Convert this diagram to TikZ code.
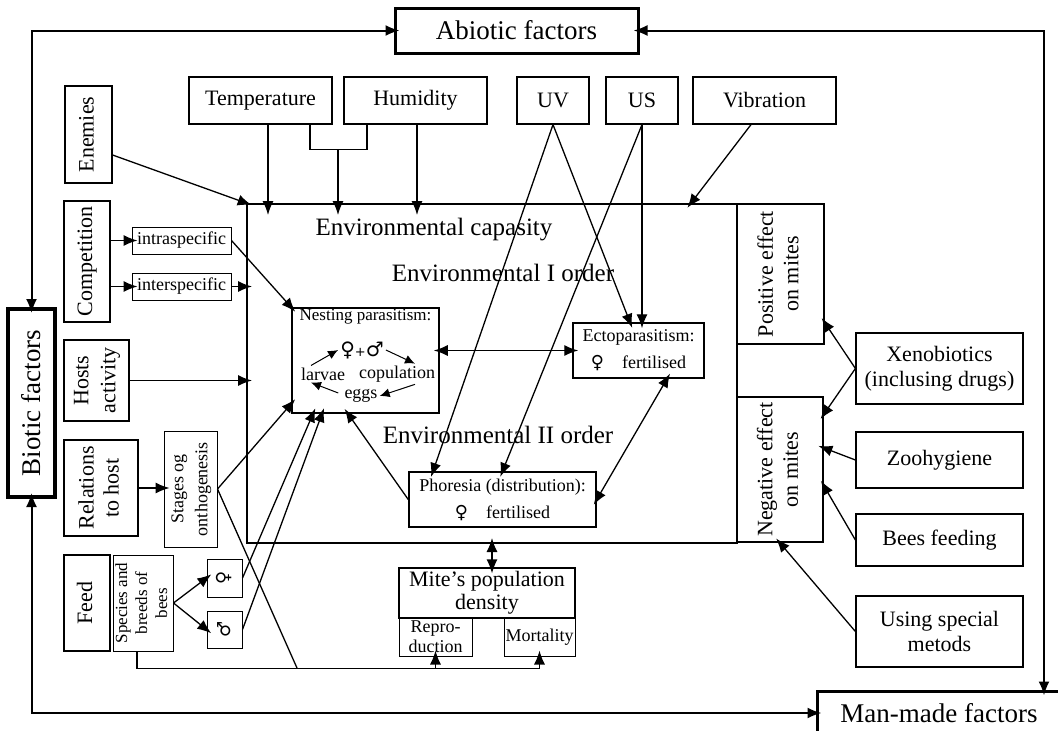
\documentclass[tikz,border=0pt]{standalone}
\usepackage{fontspec}
\setmainfont{Liberation Serif}
\newfontfamily\symfont{DejaVu Sans}
\usepackage{graphicx}
\usetikzlibrary{arrows.meta}

\newcommand{\vlabel}[1]{\rotatebox{90}{\begin{tabular}{@{}c@{}}#1\end{tabular}}}
\newcommand{\fbig}{\fontsize{27}{30}\selectfont}
\newcommand{\fenv}{\fontsize{25}{28}\selectfont}
\newcommand{\fmid}{\fontsize{22}{25.5}\selectfont}
\newcommand{\fsml}{\fontsize{18}{20}\selectfont}

\begin{document}
\begin{tikzpicture}[x=1pt,y=-1pt,
    box/.style={draw,line width=1.2pt,inner sep=0pt,font=\fmid},
    sbox/.style={draw,line width=1pt,inner sep=0pt,font=\fsml},
    fbox/.style={draw,line width=3pt,inner sep=0pt,font=\fbig},
    ebox/.style={draw,line width=2pt,inner sep=0pt,font=\fmid},
    ln/.style={line width=1.3pt},
    arr/.style={ln,-{Latex[length=14pt,width=11pt]},shorten >=-6pt},
    darr/.style={ln,{Latex[length=14pt,width=11pt]}-{Latex[length=14pt,width=11pt]},shorten >=-6pt,shorten <=-6pt},
    sarr/.style={line width=1pt,-{Latex[length=10pt,width=9pt]}},
    lbl/.style={inner sep=0pt}]
    \useasboundingbox (0,0) rectangle (1058,731);

    \node[fbox,minimum width=243pt,minimum height=45pt] (abiotic) at (516.5,30.5) {Abiotic factors};
    \node[fbox,line width=4pt,minimum width=47pt,minimum height=188pt] (biotic) at (31.5,403) {\rotatebox{90}{Biotic factors}};
    \node[fbox,minimum width=244pt,minimum height=44pt] (manmade) at (939,713) {Man-made factors};
    \coordinate (ne) at (1044,30.5);
    \draw[darr,line width=2pt] (abiotic.west) -| (biotic.north);
    \draw[darr,line width=2pt] (abiotic.east) -- (ne) -- (ne |- manmade.north);
    \draw[darr,line width=2pt] (biotic.south) |- (manmade.west);

    \node[box,minimum width=143pt,minimum height=47pt] (temp) at (260.5,100.5) {Temperature};
    \node[box,minimum width=143pt,minimum height=47pt] (humid) at (415.5,100.5) {Humidity};
    \node[box,minimum width=72pt,minimum height=47pt] (uv) at (553,100.5) {UV};
    \node[box,minimum width=72pt,minimum height=47pt] (us) at (642,100.5) {US};
    \node[box,minimum width=143pt,minimum height=47pt] (vibr) at (764.5,100.5) {Vibration};

    \node[ebox,minimum width=490pt,minimum height=339pt] (env) at (492,373.5) {};
    \node[font=\fenv,lbl] (envcap) at (434,230) {Environmental capasity};
    \node[font=\fenv,lbl] (envone) at (503,273) {Environmental I order};
    \node[font=\fenv,lbl] (envtwo) at (498,435) {Environmental II order};
    \node[ebox,minimum width=87pt,minimum height=140pt] (posit) at (780.5,274) {\vlabel{Positive effect\\on mites}};
    \node[ebox,minimum width=86pt,minimum height=145pt] (negat) at (780,469.5) {\vlabel{Negative effect\\on mites}};

    \node[box,minimum width=47pt,minimum height=97pt] (enem) at (88.5,134.5) {\vlabel{Enemies}};
    \node[box,minimum width=46pt,minimum height=121pt] (compet) at (87,261.5) {\vlabel{Competition}};
    \node[sbox,minimum width=99pt,minimum height=27pt] (intra) at (181.5,240.5) {intraspecific};
    \node[sbox,minimum width=99pt,minimum height=27pt] (inter) at (181.5,286.5) {interspecific};
    \node[box,font=\fontsize{22}{27}\selectfont,minimum width=65pt,minimum height=81pt] (hosts) at (96.5,380.5) {\vlabel{Hosts\\activity}};
    \node[box,font=\fontsize{22}{25}\selectfont,minimum width=74pt,minimum height=96pt] (relat) at (101,488) {\vlabel{Relations\\to host}};
    \node[sbox,font=\fontsize{18}{24}\selectfont,minimum width=53pt,minimum height=116pt] (stages) at (190.5,489) {\vlabel{Stages og\\onthogenesis}};
    \node[box,minimum width=46pt,minimum height=96pt] (feed) at (87,603) {\vlabel{Feed}};
    \node[sbox,font=\fontsize{17}{20}\selectfont,minimum width=58pt,minimum height=96pt] (species) at (143,603) {\vlabel{Species and\\breeds of\\bees}};
    \node[sbox,font=\fontsize{18}{20}\selectfont\symfont,minimum width=35pt,minimum height=38pt] (fem) at (224.5,578) {\rotatebox{90}{♀}};
    \node[sbox,font=\fontsize{18}{20}\selectfont\symfont,minimum width=35pt,minimum height=37pt] (male) at (224.5,629.5) {\rotatebox{90}{♂}};

    \node[sbox,line width=1.5pt,minimum width=147pt,minimum height=105pt] (nest) at (365.5,360.5) {};
    \node[font=\fontsize{17}{19}\selectfont,lbl] (nesttitle) at (365.5,317) {Nesting parasitism:};
    \node[font=\fontsize{20}{22}\selectfont\symfont,lbl] (pair) at (362,350) {♀{\fontsize{13}{14}\selectfont+}♂};
    \node[font=\fsml,lbl] (larvae) at (323,374) {larvae};
    \node[font=\fsml,lbl] (copul) at (397,374) {copulation};
    \node[font=\fsml,lbl] (eggs) at (361,396) {eggs};
    \draw[sarr] ([xshift=-12pt,yshift=2pt]larvae.north) -- ([xshift=-2pt]pair.west);
    \draw[sarr] ([xshift=2pt]pair.east) -- ([xshift=18pt,yshift=2pt]copul.north);
    \draw[sarr] ([xshift=18pt,yshift=-2pt]copul.south) -- ([xshift=2pt]eggs.east);
    \draw[sarr] ([xshift=-6pt,yshift=3pt]eggs.west) -- ([xshift=-12pt,yshift=-2pt]larvae.south);

    \node[sbox,line width=1.5pt,font=\fontsize{18}{27}\selectfont,align=center,minimum width=131pt,minimum height=55pt] (ecto) at (638.5,350.5) {Ectoparasitism:\\{\symfont ♀}\hspace{1em}fertilised};
    \node[sbox,line width=1.5pt,font=\fontsize{18}{27}\selectfont,align=center,minimum width=187pt,minimum height=55pt] (phor) at (502.5,499.5) {Phoresia (distribution):\\{\symfont ♀}\hspace{1em}fertilised};
    \node[box,font=\fontsize{22}{23}\selectfont,align=center,minimum width=176pt,minimum height=50pt] (mite) at (487,593) {Mite's population\\density};
    \node[sbox,align=center,minimum width=73pt,minimum height=38pt] (repro) at (435.5,637) {Repro-\\duction};
    \node[sbox,minimum width=71pt,minimum height=38pt] (mort) at (539.5,637) {Mortality};

    \node[box,align=center,minimum width=167pt,minimum height=71pt] (xeno) at (939.5,368.5) {Xenobiotics\\(inclusing drugs)};
    \node[box,minimum width=167pt,minimum height=56pt] (zoo) at (939.5,460) {Zoohygiene};
    \node[box,minimum width=167pt,minimum height=52pt] (beesfeed) at (939.5,540) {Bees feeding};
    \node[box,align=center,minimum width=167pt,minimum height=71pt] (special) at (939.5,631.5) {Using special\\metods};

    \draw[arr,shorten >=-12pt] ([xshift=7.5pt]temp.south) -- ([xshift=7.5pt]temp.south |- env.north);
    \draw[ln] ([xshift=49.5pt]temp.south) -- ++(0,25) -| ([xshift=-48.5pt]humid.south);
    \coordinate (tbar) at (338,149);
    \draw[arr,shorten >=-12pt] (tbar) -- (tbar |- env.north);
    \draw[arr,shorten >=-12pt] ([xshift=1.5pt]humid.south) -- ([xshift=1.5pt]humid.south |- env.north);
    \draw[arr] (uv.south) -- ([xshift=-69.5pt]phor.north);
    \draw[arr] (uv.south) -- ([xshift=-8.5pt]ecto.north);
    \draw[arr] (us.south) -- (us.south |- ecto.north);
    \draw[arr] (us.south) -- (phor.north);
    \draw[arr] ([xshift=-13.5pt]vibr.south) -- ([xshift=199pt]env.north);

    \draw[arr] ([yshift=-20.5pt]enem.east) -- (env.north west);
    \draw[arr] (compet.east |- intra.west) -- (intra.west);
    \draw[arr] (compet.east |- inter.west) -- (inter.west);
    \draw[arr] (intra.east) -- (nest.north west);
    \draw[arr] (inter.east) -- (inter.east -| env.west);
    \draw[arr] (hosts.east) -- (hosts.east -| env.west);
    \draw[arr] (relat.east) -- (relat.east -| stages.west);
    \draw[arr] (stages.east) -- ([yshift=10pt]nest.south west);
    \coordinate (busjoin) at (297,668);
    \draw[ln] (stages.east) -- (busjoin);
    \draw[arr] ([xshift=-6pt]species.south) -- ++(0,17) -| (mort.south);
    \draw[arr] (busjoin -| repro.south) -- (repro.south);
    \draw[arr] (species.east) -- (fem.west);
    \draw[arr] (species.east) -- (male.west);
    \draw[arr] (fem.east) -- ([xshift=-52.5pt]nest.south);
    \draw[arr] (male.east) -- ([xshift=-43.5pt]nest.south);

    \draw[darr] (nest.east |- ecto.west) -- (ecto.west);
    \draw[darr] ([xshift=28.5pt]ecto.south) -- (phor.east);
    \draw[arr] (phor.west) -- ([xshift=-17.5pt]nest.south);
    \draw[darr] ([xshift=5pt]mite.north) -- ([xshift=5pt]mite.north |- env.south);

    \draw[arr] (xeno.west) -- ([yshift=22pt]posit.south east);
    \draw[arr] (xeno.west) -- ([yshift=-18pt]negat.north east);
    \draw[arr] (zoo.west) -- ([yshift=-52pt]negat.north east);
    \draw[arr] (beesfeed.west) -- ([yshift=-90pt]negat.north east);
    \draw[arr] (special.west) -- (negat.south);
\end{tikzpicture}
\end{document}
